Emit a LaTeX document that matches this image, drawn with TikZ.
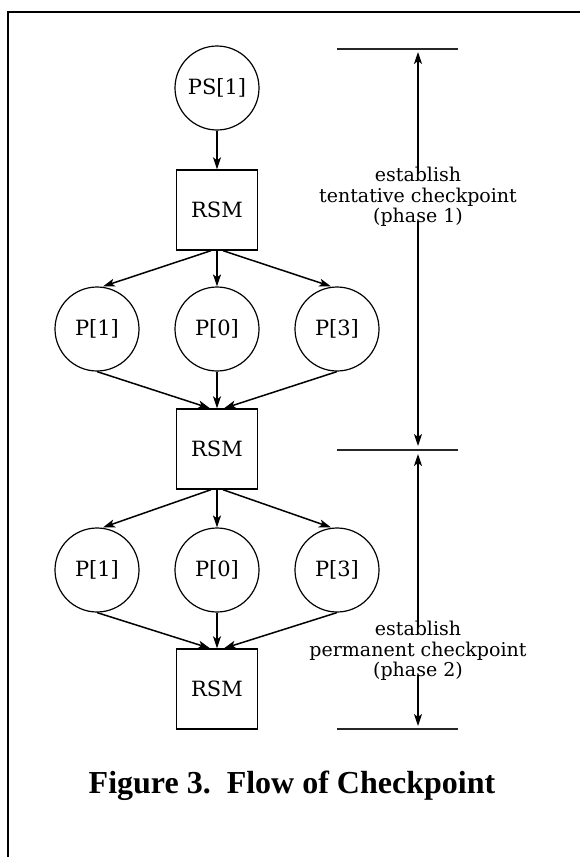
\documentclass[tikz,border=0pt]{standalone}
\usepackage{fontspec}
\setmainfont{DejaVu Serif}
\newfontfamily\captionfont{Liberation Serif}
\usetikzlibrary{arrows.meta}

\tikzset{
  proc/.style={circle, draw, line width=1.2pt, minimum size=84pt, inner sep=0pt,
    font=\fontsize{21}{21}\selectfont},
  rsm/.style={rectangle, draw, line width=1.4pt, minimum width=81pt, minimum height=80pt,
    inner sep=0pt, font=\fontsize{21}{21}\selectfont},
  flow/.style={-{Stealth[length=12pt,width=8pt,inset=3pt]}, line width=1.5pt},
  dimline/.style={line width=2pt, draw=black!85},
  frameline/.style={line width=2.2pt},
  note/.style={align=center, inner sep=0pt, font=\fontsize{19}{20.5}\selectfont},
  caption/.style={font=\captionfont\bfseries\fontsize{32}{32}\selectfont}
}

\begin{document}
\begin{tikzpicture}[x=1pt, y=-1pt]
  \useasboundingbox (0,0) rectangle (580,857);
  \fill[white] (0,0) rectangle (580,857);

  % frame: top and left edges only
  \coordinate (fr0) at (8,857);
  \coordinate (fr1) at (8,12);
  \coordinate (fr2) at (580,12);
  \draw[frameline] (fr0) -- (fr1) -- (fr2);

  % processes and resource managers
  \node[proc] (ps) at (217,88) {PS[1]};
  \node[rsm]  (r1) at (217,210) {RSM};
  \node[proc] (a1) at (97,329)  {P[1]};
  \node[proc] (a0) at (217,329) {P[0]};
  \node[proc] (a3) at (337,329) {P[3]};
  \node[rsm]  (r2) at (217,449) {RSM};
  \node[proc] (b1) at (97,570)  {P[1]};
  \node[proc] (b0) at (217,570) {P[0]};
  \node[proc] (b3) at (337,570) {P[3]};
  \node[rsm]  (r3) at (217,689) {RSM};

  % message flow
  \draw[flow] (ps) -- (r1);
  \draw[flow] ([xshift=-6pt]r1.south) -- ([xshift=6pt]a1.north);
  \draw[flow] (r1) -- (a0);
  \draw[flow] ([xshift=6pt]r1.south) -- ([xshift=-6pt]a3.north);
  \draw[flow] (a1.south) -- ([xshift=-7pt]r2.north);
  \draw[flow] (a0) -- (r2);
  \draw[flow] (a3.south) -- ([xshift=7pt]r2.north);

  \draw[flow] ([xshift=-6pt]r2.south) -- ([xshift=6pt]b1.north);
  \draw[flow] (r2) -- (b0);
  \draw[flow] ([xshift=6pt]r2.south) -- ([xshift=-6pt]b3.north);
  \draw[flow] (b1.south) -- ([xshift=-7pt]r3.north);
  \draw[flow] (b0) -- (r3);
  \draw[flow] (b3.south) -- ([xshift=7pt]r3.north);

  % phase limits
  \coordinate (t0a) at (337,49);  \coordinate (t0b) at (458,49);
  \coordinate (t1a) at (337,450); \coordinate (t1b) at (458,450);
  \coordinate (t2a) at (337,729); \coordinate (t2b) at (458,729);
  \draw[dimline] (t0a) -- (t0b);
  \draw[dimline] (t1a) -- (t1b);
  \draw[dimline] (t2a) -- (t2b);

  % phase labels
  \node[note] (n1) at (418,197) {establish\\tentative checkpoint\\(phase 1)};
  \node[note] (n2) at (418,651) {establish\\permanent checkpoint\\(phase 2)};

  % dimension arrows
  \coordinate (d0) at (418,52);
  \coordinate (d1) at (418,446);
  \coordinate (d2) at (418,454);
  \coordinate (d3) at (418,726);
  \draw[flow] ([yshift=-7pt]n1.north) -- (d0);
  \draw[flow] ([yshift=6pt]n1.south) -- (d1);
  \draw[flow] ([yshift=-6pt]n2.north) -- (d2);
  \draw[flow] ([yshift=6pt]n2.south) -- (d3);

  % caption
  \node[caption] (cap) at (292,786) {Figure 3.\ \ Flow of Checkpoint};
\end{tikzpicture}
\end{document}
